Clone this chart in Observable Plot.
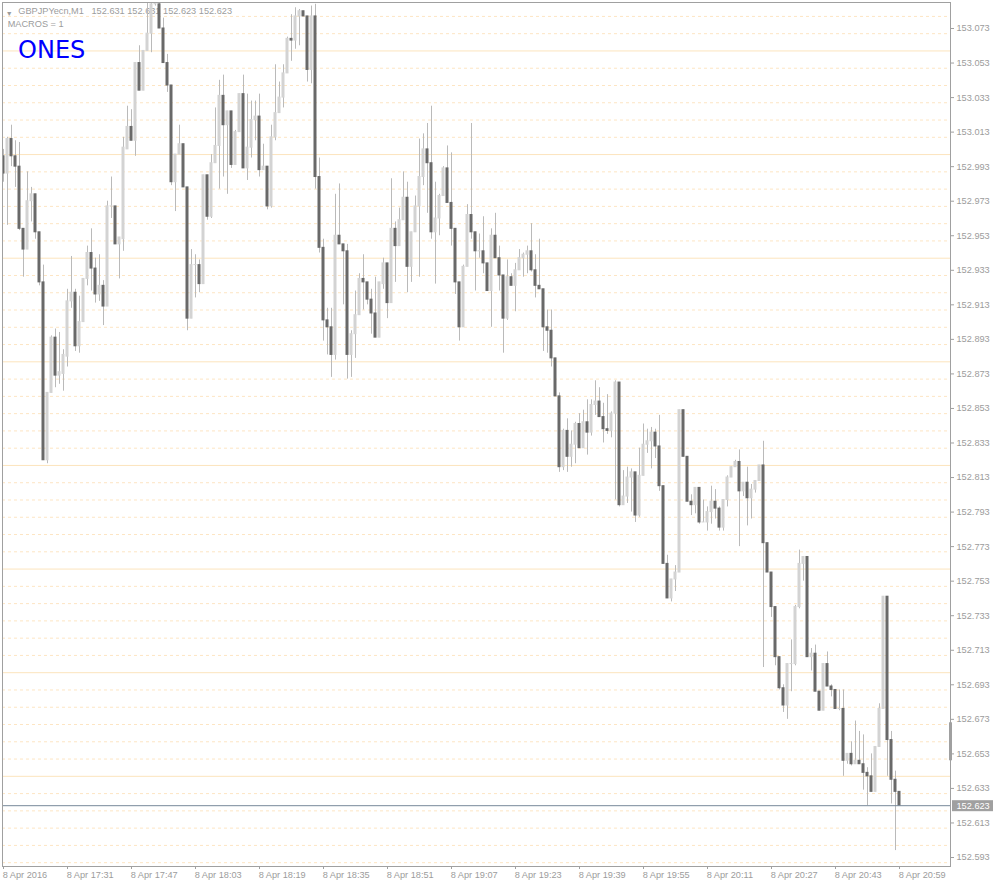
<!DOCTYPE html>
<html><head><meta charset="utf-8">
<script src="https://cdn.jsdelivr.net/npm/d3@7"></script>
<script src="https://cdn.jsdelivr.net/npm/@observablehq/plot@0.6"></script>
<style>
html,body{margin:0;padding:0;background:#fff;}
#chart{width:993px;height:887px;}
</style></head><body><div id="chart"></div>
<script>
const symbolName = "GBPJPYecn,M1";
const macroLabel = "MACROS = 1";
const overlayLabel = "ONES";

const open = [
152.999,152.989,153.009,152.999,152.993,152.957,152.945,152.973,152.977,152.955,
152.926,152.823,152.862,152.894,152.872,152.873,152.883,152.915,152.920,152.889,
152.903,152.928,152.943,152.934,152.919,152.924,152.912,152.970,152.970,152.948,
152.951,153.003,153.016,153.008,153.053,153.037,153.060,153.070,153.087,153.087,
153.073,153.053,153.040,152.984,153.000,153.006,152.981,152.905,152.936,152.936,
152.925,152.988,152.964,152.995,153.005,153.034,153.017,153.025,152.994,153.013,
153.035,152.992,153.004,153.020,153.022,152.991,152.993,152.970,153.010,153.024,
153.033,153.047,153.067,153.066,153.080,153.083,153.080,153.049,153.080,152.987,
152.946,152.904,152.900,152.884,152.953,152.948,152.944,152.884,152.896,152.907,
152.928,152.926,152.916,152.908,152.894,152.925,152.937,152.914,152.957,152.947,
152.962,152.975,152.935,152.955,152.970,152.987,153.003,152.995,152.955,152.963,
152.976,152.992,152.972,152.957,152.926,152.900,152.935,152.965,152.955,152.944,
152.944,152.937,152.921,152.953,152.940,152.930,152.905,152.929,152.924,152.933,
152.940,152.942,152.944,152.933,152.924,152.922,152.900,152.898,152.882,152.860,
152.819,152.840,152.825,152.832,152.844,152.830,152.845,152.839,152.855,152.857,
152.848,152.841,152.840,152.850,152.868,152.797,152.802,152.813,152.816,152.791,
152.814,152.832,152.834,152.839,152.831,152.808,152.763,152.743,152.754,152.758,
152.852,152.825,152.799,152.797,152.807,152.787,152.787,152.793,152.799,152.795,
152.784,152.800,152.813,152.819,152.822,152.805,152.810,152.801,152.806,152.811,
152.820,152.775,152.758,152.738,152.709,152.691,152.681,152.705,152.705,152.738,
152.763,152.767,152.709,152.711,152.689,152.678,152.705,152.692,152.690,152.679,
152.679,152.649,152.653,152.647,152.649,152.647,152.642,152.640,152.631,152.657,
152.679,152.744,152.661,152.638,152.631];

const high = [
153.003,153.010,153.017,153.008,153.007,152.957,152.990,152.981,152.977,152.955,
152.936,152.862,152.895,152.899,152.897,152.887,152.922,152.941,152.922,152.918,
152.928,152.947,152.957,152.940,152.942,152.927,152.973,152.987,152.970,152.952,
153.010,153.028,153.026,153.053,153.063,153.060,153.092,153.089,153.093,153.089,
153.079,153.058,153.040,153.000,153.017,153.006,152.981,152.945,152.942,152.939,
152.988,152.988,153.000,153.027,153.043,153.046,153.025,153.025,153.014,153.035,
153.046,153.035,153.031,153.031,153.035,153.006,152.993,153.017,153.052,153.042,
153.052,153.068,153.081,153.085,153.084,153.083,153.080,153.086,153.087,152.998,
152.951,152.911,152.911,152.977,152.983,152.948,152.948,152.898,152.921,152.931,
152.942,152.926,152.922,152.929,152.926,152.940,152.937,152.986,152.961,152.969,
152.990,152.984,152.955,152.976,153.009,153.012,153.018,153.028,152.984,152.977,
152.993,153.005,153.001,152.957,152.926,152.936,152.971,153.018,152.955,152.954,
152.964,152.937,152.957,152.966,152.947,152.930,152.939,152.931,152.937,152.945,
152.943,152.947,152.960,152.942,152.951,152.922,152.910,152.910,152.882,152.862,
152.841,152.847,152.840,152.845,152.850,152.852,152.858,152.858,152.869,152.865,
152.856,152.861,152.851,152.869,152.868,152.817,152.819,152.818,152.816,152.830,
152.844,152.841,152.842,152.841,152.849,152.808,152.768,152.754,152.762,152.852,
152.852,152.825,152.803,152.807,152.807,152.800,152.796,152.808,152.806,152.796,
152.800,152.814,152.819,152.823,152.829,152.810,152.819,152.809,152.811,152.820,
152.834,152.775,152.758,152.738,152.709,152.693,152.705,152.719,152.739,152.771,
152.767,152.767,152.714,152.716,152.689,152.705,152.712,152.693,152.690,152.690,
152.690,152.653,152.660,152.672,152.666,152.664,152.645,152.653,152.657,152.682,
152.744,152.744,152.666,152.643,152.631];

const low = [
152.984,152.959,152.993,152.981,152.956,152.929,152.945,152.961,152.951,152.924,
152.823,152.821,152.862,152.865,152.867,152.863,152.877,152.911,152.886,152.885,
152.903,152.924,152.921,152.914,152.915,152.901,152.912,152.963,152.948,152.928,
152.944,153.003,153.008,152.999,153.037,153.037,153.060,153.059,153.086,153.073,
153.053,153.036,152.982,152.967,153.000,152.981,152.898,152.905,152.917,152.920,
152.925,152.962,152.963,152.995,152.980,152.987,152.977,152.992,152.994,153.013,
152.992,152.985,152.998,153.008,152.987,152.991,152.968,152.969,153.008,153.024,
153.027,153.047,153.054,153.061,153.063,153.080,153.042,153.041,152.980,152.943,
152.892,152.884,152.871,152.881,152.948,152.913,152.870,152.871,152.882,152.907,
152.910,152.913,152.896,152.894,152.894,152.922,152.905,152.914,152.926,152.947,
152.962,152.920,152.926,152.955,152.929,152.982,152.966,152.951,152.925,152.953,
152.976,152.972,152.947,152.919,152.892,152.900,152.935,152.951,152.921,152.940,
152.931,152.921,152.900,152.940,152.921,152.885,152.904,152.924,152.909,152.933,
152.929,152.931,152.932,152.917,152.922,152.886,152.885,152.877,152.860,152.816,
152.817,152.816,152.819,152.821,152.830,152.830,152.826,152.837,152.849,152.848,
152.833,152.838,152.836,152.800,152.796,152.797,152.798,152.793,152.787,152.790,
152.814,152.827,152.818,152.824,152.805,152.763,152.743,152.741,152.747,152.758,
152.825,152.799,152.791,152.792,152.786,152.787,152.782,152.786,152.789,152.782,
152.782,152.796,152.813,152.819,152.773,152.802,152.785,152.789,152.804,152.811,
152.703,152.758,152.732,152.704,152.690,152.677,152.673,152.689,152.704,152.737,
152.753,152.709,152.701,152.689,152.678,152.678,152.692,152.686,152.679,152.678,
152.640,152.647,152.646,152.647,152.647,152.632,152.623,152.631,152.631,152.657,
152.679,152.640,152.624,152.597,152.623];

const close = [
152.989,153.009,152.999,152.993,152.957,152.945,152.973,152.977,152.955,152.926,
152.823,152.862,152.894,152.872,152.874,152.884,152.915,152.920,152.889,152.903,
152.928,152.943,152.934,152.919,152.924,152.912,152.970,152.970,152.948,152.952,
153.004,153.016,153.008,153.053,153.037,153.060,153.070,153.087,153.091,153.073,
153.053,153.040,152.984,153.000,153.006,152.981,152.905,152.936,152.936,152.925,
152.988,152.964,152.995,153.005,153.034,153.017,153.025,152.994,153.013,153.035,
152.992,153.004,153.020,153.022,152.991,152.993,152.970,153.010,153.024,153.033,
153.047,153.067,153.066,153.080,153.083,153.080,153.049,153.080,152.987,152.946,
152.904,152.900,152.884,152.953,152.948,152.944,152.884,152.896,152.907,152.928,
152.926,152.916,152.908,152.894,152.926,152.937,152.914,152.957,152.947,152.962,
152.975,152.935,152.955,152.970,152.987,153.003,152.995,152.955,152.963,152.976,
152.992,152.972,152.957,152.926,152.900,152.935,152.965,152.955,152.944,152.944,
152.937,152.921,152.953,152.940,152.930,152.905,152.929,152.924,152.933,152.940,
152.942,152.944,152.933,152.924,152.922,152.900,152.898,152.882,152.860,152.819,
152.840,152.825,152.832,152.844,152.830,152.845,152.839,152.855,152.857,152.848,
152.841,152.840,152.850,152.868,152.797,152.802,152.813,152.816,152.791,152.814,
152.832,152.834,152.839,152.831,152.808,152.763,152.743,152.754,152.758,152.852,
152.825,152.799,152.797,152.807,152.787,152.787,152.793,152.799,152.795,152.784,
152.800,152.813,152.819,152.822,152.805,152.810,152.801,152.806,152.811,152.820,
152.775,152.758,152.738,152.709,152.691,152.681,152.705,152.705,152.738,152.763,
152.767,152.709,152.711,152.689,152.678,152.705,152.692,152.690,152.679,152.679,
152.649,152.653,152.647,152.649,152.647,152.642,152.640,152.631,152.657,152.679,
152.744,152.661,152.638,152.631,152.623];

const yTicks = [153.073,153.053,153.033,153.013,152.993,152.973,152.953,152.933,152.913,152.893,
152.873,152.853,152.833,152.813,152.793,152.773,152.753,152.733,152.713,152.693,
152.673,152.653,152.633,152.613,152.593];

const xTickIndex = [0,16,32,48,64,80,96,112,128,144,160,176,192,208,224];
const xTickLabels = ["8 Apr 2016","8 Apr 17:31","8 Apr 17:47","8 Apr 18:03","8 Apr 18:19",
"8 Apr 18:35","8 Apr 18:51","8 Apr 19:07","8 Apr 19:23","8 Apr 19:39","8 Apr 19:55",
"8 Apr 20:11","8 Apr 20:27","8 Apr 20:43","8 Apr 20:59"];

const levelsAll = [153.08,153.07,153.06,153.05,153.04,153.03,153.02,153.01,153.00,152.99,
152.98,152.97,152.96,152.95,152.94,152.93,152.92,152.91,152.90,152.89,152.88,152.87,152.86,
152.85,152.84,152.83,152.82,152.81,152.80,152.79,152.78,152.77,152.76,152.75,152.74,152.73,
152.72,152.71,152.70,152.69,152.68,152.67,152.66,152.65,152.64,152.63,152.62,152.61,152.60,152.59];
const levelsSolid = [153.06,153.00,152.94,152.88,152.82,152.76,152.70,152.64];
const rangeMarker = [152.671, 152.649];

const candles = open.map((o, i) => ({i, o, h: high[i], l: low[i], c: close[i]}));
const ups = candles.filter(d => d.c >= d.o);
const downs = candles.filter(d => d.c < d.o);
const last = candles[candles.length - 1];
const fmt = d3.format(".3f");
const headerText = symbolName + "\u00a0\u00a0\u00a0" + [last.o, last.h, last.l, last.c].map(fmt).join(" ");
const levelsDashed = levelsAll.filter(v => !levelsSolid.some(s => Math.abs(s - v) < 1e-6));

const xDomain = [-0.25, 236.75];
const yDomain = [152.587789, 153.088054];
const gray = "#a0a0a0";
const textGray = "#9c9c9c";
const bodyW = 0.375;

const chart = Plot.plot({
  width: 993, height: 887,
  marginLeft: 2, marginRight: 43, marginTop: 2, marginBottom: 21,
  style: {fontFamily: "'Liberation Sans', Arial, sans-serif", fontSize: "9.2px", color: gray, background: "#fff", overflow: "visible"},
  x: {domain: xDomain, axis: "bottom", ticks: xTickIndex, tickSize: 3, tickFormat: () => "", label: null},
  y: {domain: yDomain, axis: "right", ticks: yTicks, tickSize: 3, tickFormat: () => "", label: null},
  marks: [
    Plot.ruleY(levelsDashed, {stroke: "#fde5c3", strokeDasharray: "3,3"}),
    Plot.ruleY(levelsSolid, {stroke: "#fce4bd"}),
    Plot.text(["\u25BC"], {frameAnchor: "top-left", dx: 6.8, dy: 8.6, fontSize: 7, fill: textGray, textAnchor: "middle"}),
    Plot.text([headerText], {frameAnchor: "top-left", dx: 15.8, dy: 11.5, lineAnchor: "bottom", textAnchor: "start", fill: textGray}),
    Plot.text([macroLabel], {frameAnchor: "top-left", dx: 5.2, dy: 24.2, lineAnchor: "bottom", textAnchor: "start", fill: textGray}),
    Plot.text([overlayLabel], {frameAnchor: "top-left", dx: 15.6, dy: 55.8, lineAnchor: "bottom", textAnchor: "start", fill: "#0000ff", fontSize: 24, fontFamily: "'DejaVu Sans', sans-serif"}),
    Plot.ruleX(candles, {x: "i", y1: "l", y2: "h", stroke: "#bababa", clip: true}),
    Plot.rect(ups, {x1: d => d.i - bodyW, x2: d => d.i + bodyW, y1: "o", y2: "c", fill: "#d3d3d3", insetTop: -0.5, insetBottom: -0.5, clip: true}),
    Plot.rect(downs, {x1: d => d.i - bodyW, x2: d => d.i + bodyW, y1: "o", y2: "c", fill: "#696969", insetTop: -0.5, insetBottom: -0.5, clip: true}),
    Plot.ruleY([last.c], {stroke: "#778899"}),
    Plot.frame({stroke: gray}),
    Plot.ruleX([rangeMarker], {x: () => xDomain[1], y1: d => d[0], y2: d => d[1], stroke: gray, strokeWidth: 3}),
    Plot.text(yTicks, {y: d => d, text: d => fmt(d), frameAnchor: "right", textAnchor: "start", dx: 6, fill: textGray}),
    Plot.text(xTickIndex, {x: d => d, text: (d, i) => xTickLabels[i], frameAnchor: "bottom", textAnchor: "start", lineAnchor: "bottom", dx: -0.8, dy: 11.8, fill: textGray})
  ]
});

// current price tag on the right axis
const yy = chart.scale("y").apply(last.c) + 0.5;
const svg = d3.select(chart);
svg.append("rect").attr("x", 993 - 41).attr("y", yy - 5.5).attr("width", 41).attr("height", 11).attr("fill", gray);
svg.append("text").attr("x", 956.5).attr("y", yy + 3.2).attr("text-anchor", "start")
  .attr("font-family", "'Liberation Sans', Arial, sans-serif").attr("font-size", "9.2px")
  .attr("fill", "#fff").text(fmt(last.c));

document.getElementById("chart").appendChild(chart);
</script>
</body></html>
